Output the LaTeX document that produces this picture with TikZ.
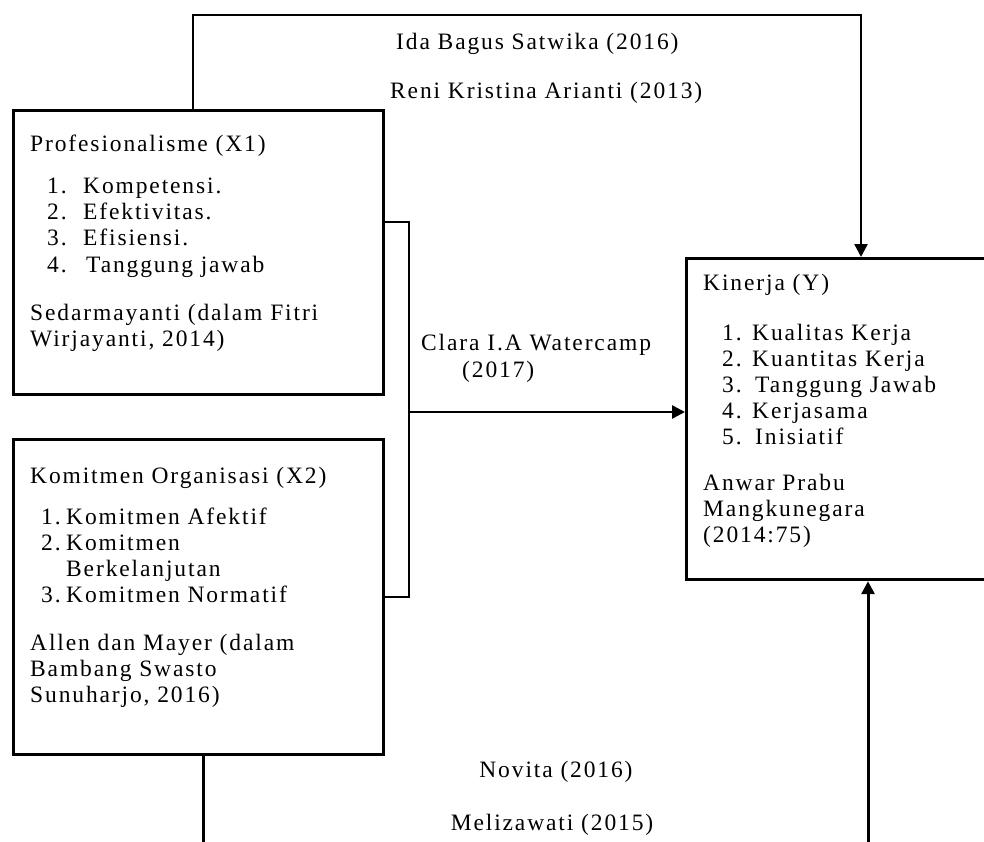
\documentclass[tikz,border=0pt]{standalone}
\usepackage{fontspec}
\setmainfont{Liberation Serif}[LetterSpace=8]
\usetikzlibrary{arrows.meta}
\begin{document}
\begin{tikzpicture}[x=1pt,y=-1pt,
  box/.style={draw, line width=3.2pt, rectangle, inner sep=0pt},
  conn/.style={line width=2.6pt},
  thin conn/.style={line width=2.4pt},
  arr/.style={-{Triangle[length=13pt,width=13pt]}},
  txt/.style={anchor=base west, inner sep=0pt, font=\fontsize{23.5}{26}\selectfont},
  ctxt/.style={anchor=base, inner sep=0pt, font=\fontsize{23.5}{26}\selectfont}]
\useasboundingbox (0,0) rectangle (984,842);
\clip (0,0) rectangle (984,842);

% boxes
\node[box, anchor=north west, minimum width=370pt, minimum height=284pt] (x1) at (12,109) {};
\node[box, anchor=north west, minimum width=370pt, minimum height=315pt] (x2) at (12,438) {};
\node[box, anchor=north west, minimum width=330pt, minimum height=321pt] (y) at (685,257) {};

% X1 text
\node[txt] (a0) at (30,152) {Profesionalisme (X1)};
\node[txt] (a1n) at (47,194) {1.};
\node[txt] (a1) at (83,194) {Kompetensi.};
\node[txt] (a2n) at (47,220) {2.};
\node[txt] (a2) at (83,220) {Efektivitas.};
\node[txt] (a3n) at (47,246) {3.};
\node[txt] (a3) at (83,246) {Efisiensi.};
\node[txt] (a4n) at (47,272) {4.};
\node[txt] (a4) at (86,272) {Tanggung jawab};
\node[txt] (a5) at (30,320) {Sedarmayanti (dalam Fitri};
\node[txt] (a6) at (30,346) {Wirjayanti, 2014)};

% X2 text
\node[txt] (b0) at (30,483) {Komitmen Organisasi (X2)};
\node[txt] (b1n) at (41,524) {1.};
\node[txt] (b1) at (66,524) {Komitmen Afektif};
\node[txt] (b2n) at (41,550) {2.};
\node[txt] (b2) at (66,550) {Komitmen};
\node[txt] (b3) at (66,576) {Berkelanjutan};
\node[txt] (b4n) at (41,602) {3.};
\node[txt] (b4) at (66,602) {Komitmen Normatif};
\node[txt] (b5) at (30,650) {Allen dan Mayer (dalam};
\node[txt] (b6) at (30,676) {Bambang Swasto};
\node[txt] (b7) at (30,702) {Sunuharjo, 2016)};

% Y text
\node[txt] (c0) at (703,290) {Kinerja (Y)};
\node[txt] (c1n) at (722,340) {1.};
\node[txt] (c1) at (752,340) {Kualitas Kerja};
\node[txt] (c2n) at (722,366) {2.};
\node[txt] (c2) at (752,366) {Kuantitas Kerja};
\node[txt] (c3n) at (722,392) {3.};
\node[txt] (c3) at (755,392) {Tanggung Jawab};
\node[txt] (c4n) at (722,418) {4.};
\node[txt] (c4) at (752,418) {Kerjasama};
\node[txt] (c5n) at (722,444) {5.};
\node[txt] (c5) at (755,444) {Inisiatif};
\node[txt] (c6) at (703,490) {Anwar Prabu};
\node[txt] (c7) at (703,516) {Mangkunegara};
\node[txt] (c8) at (703,542) {(2014:75)};

% connector labels
\node[txt] (l1) at (396,50) {Ida Bagus Satwika (2016)};
\node[txt] (l2) at (390,99) {Reni Kristina Arianti (2013)};
\node[txt] (l3) at (421,350) {Clara I.A Watercamp};
\node[txt] (l4) at (462,377) {(2017)};
\node[ctxt] (l5) at (556,777) {Novita (2016)};
\node[ctxt] (l6) at (552,830) {Melizawati (2015)};

% connector coordinates
\coordinate (t0) at (193,109);
\coordinate (t1) at (193,15);
\coordinate (t2) at (861,15);
\coordinate (k1) at (382,222);
\coordinate (k2) at (409,222);
\coordinate (k3) at (409,597);
\coordinate (k4) at (382,597);
\coordinate (km) at (409,412);
\coordinate (d0) at (203,753);
\coordinate (d1) at (203,880);
\coordinate (d2) at (868,880);

% connectors
\draw[thin conn, arr] (t0) -- (t1) -- (t2) -- (t2 |- y.north);
\draw[conn] (k1) -- (k2) -- (k3) -- (k4);
\draw[conn, arr] (km) -- (km -| y.west);
\draw[conn, line width=3pt, arr] (d0) -- (d1) -- (d2) -- (d2 |- y.south);
\end{tikzpicture}
\end{document}
